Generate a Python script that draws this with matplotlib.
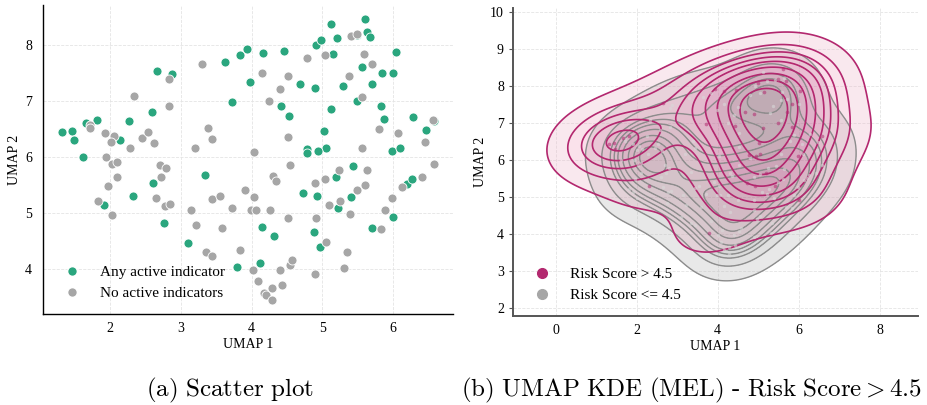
import numpy as np
import matplotlib
matplotlib.use("Agg")
import matplotlib.pyplot as plt
import seaborn as sns
from matplotlib.lines import Line2D

# points with any active indicator
act_x = [1.31, 1.45, 1.48, 1.61, 1.66, 1.81, 2.14, 2.27, 2.59, 2.66, 2.87, 2.60, 2.32, 1.91, 2.76,
         3.10, 3.34, 3.63, 3.83, 3.94, 4.16, 4.46, 3.98, 3.72, 4.42, 4.53, 4.69, 4.90, 4.92, 4.99,
         5.13, 5.21, 5.15, 5.49, 5.61, 5.64, 5.68, 5.57, 5.29, 5.71, 5.85, 6.00, 6.04, 5.50, 5.13,
         5.83, 5.88, 6.28, 6.47, 6.59, 5.03, 5.05, 4.94, 4.78, 4.79, 5.99, 6.10, 5.44, 5.19, 4.73,
         4.93, 5.41, 5.23, 6.20, 6.27, 6.00, 5.70, 4.89, 4.97, 4.15, 4.32, 4.12, 3.80]
act_y = [6.45, 6.47, 6.30, 6.01, 6.61, 6.66, 6.30, 6.65, 6.81, 7.55, 7.48, 5.54, 5.31, 5.14, 4.83,
         4.46, 5.68, 7.71, 7.82, 7.93, 7.87, 7.89, 7.35, 6.98, 6.92, 6.73, 7.31, 7.24, 8.01, 8.09,
         8.38, 8.13, 7.85, 8.19, 8.47, 8.23, 8.15, 7.62, 7.28, 7.31, 7.51, 7.51, 7.88, 7.01, 6.86,
         6.91, 6.69, 6.72, 6.48, 6.64, 6.47, 6.17, 6.11, 6.15, 6.07, 6.12, 6.17, 5.84, 5.65, 5.37,
         5.31, 5.29, 5.09, 5.52, 5.61, 4.93, 4.73, 4.66, 4.40, 4.75, 4.60, 4.11, 4.04]
# 1 = risk score > 4.5
act_risk = [1, 1, 1, 0, 1, 1, 0, 0, 0, 1, 0, 0, 1, 0, 0,
            0, 0, 0, 0, 1, 1, 1, 0, 1, 1, 0, 1, 1, 0, 1,
            0, 0, 1, 1, 1, 0, 1, 0, 0, 1, 1, 0, 1, 1, 1,
            1, 0, 0, 0, 1, 1, 1, 1, 1, 0, 1, 0, 0, 1, 1,
            1, 1, 0, 0, 0, 1, 0, 0, 0, 0, 0, 0, 1]

# points with no active indicators
none_x = [1.71, 1.71, 1.92, 2.05, 2.01, 2.28, 2.34, 2.45, 2.53, 2.62, 2.83, 2.83, 1.94, 2.03, 2.10,
          2.10, 1.97, 2.70, 2.79, 2.72, 1.82, 2.02, 2.65, 2.78, 2.84, 3.30, 4.15, 4.51, 4.40, 4.25,
          3.39, 3.44, 3.20, 4.04, 4.52, 4.54, 4.30, 4.35, 3.91, 3.44, 3.55, 4.03, 3.14, 3.72, 3.99,
          4.06, 4.26, 4.51, 3.21, 3.58, 3.35, 3.44, 3.83, 4.02, 4.41, 4.54, 4.58, 4.09, 4.17, 4.21,
          4.29, 4.43, 4.29, 4.90, 4.79, 5.04, 5.41, 5.50, 5.59, 5.71, 5.38, 5.56, 5.80, 6.08, 6.46,
          6.57, 5.57, 4.90, 5.04, 5.24, 5.63, 5.10, 5.26, 5.50, 5.61, 5.39, 4.91, 5.06, 5.35, 5.31,
          5.99, 5.89, 5.83, 6.13, 6.42, 6.58]
none_y = [6.58, 6.53, 6.44, 6.38, 6.28, 6.17, 7.10, 6.34, 6.45, 6.26, 7.40, 6.91, 6.01, 5.88, 5.92,
          5.64, 5.48, 5.86, 5.80, 5.64, 5.21, 4.97, 5.27, 5.13, 5.17, 7.67, 7.51, 7.45, 7.22, 7.01,
          6.53, 6.32, 6.17, 6.10, 6.36, 5.86, 5.66, 5.57, 5.41, 5.25, 5.31, 5.29, 5.06, 5.09, 5.06,
          5.06, 5.06, 4.91, 4.79, 4.73, 4.31, 4.24, 4.34, 3.98, 3.98, 4.07, 4.16, 3.79, 3.58, 3.53,
          3.66, 3.71, 3.45, 3.92, 7.77, 7.82, 8.16, 8.20, 7.85, 7.66, 7.46, 7.08, 6.51, 6.44, 6.27,
          6.66, 6.16, 5.54, 5.62, 5.78, 5.77, 5.15, 5.22, 5.41, 5.50, 4.98, 4.91, 4.48, 4.31, 4.02,
          5.28, 5.06, 4.71, 5.46, 5.65, 5.88]

GREEN = '#2aa67e'
GRAY = '#a6a6a6'
MAG = '#b3286f'

plt.rcParams['font.family'] = ['Liberation Serif', 'DejaVu Serif']
plt.rcParams['mathtext.fontset'] = 'cm'

fig = plt.figure(figsize=(9.27, 4.05), dpi=100)
ax1 = fig.add_axes([0.0464, 0.2247, 0.4423, 0.763])
ax2 = fig.add_axes([0.5534, 0.2198, 0.4369, 0.7605])

# ---- (a) scatter
ax1.scatter(act_x, act_y, s=42, color=GREEN, edgecolor='white', linewidth=0.6, zorder=3)
ax1.scatter(none_x, none_y, s=42, color=GRAY, edgecolor='white', linewidth=0.6, zorder=3)
ax1.set_xticks([2, 3, 4, 5, 6])
ax1.set_yticks([4, 5, 6, 7, 8])
ax1.set_xlabel('UMAP 1', fontsize=10, labelpad=2)
ax1.set_ylabel('UMAP 2', fontsize=10, labelpad=3)
ax1.tick_params(axis='y', length=0, labelsize=10, pad=8)
ax1.tick_params(axis='x', length=0, labelsize=10, pad=6)
ax1.grid(True, color='#e4e4e4', linestyle='--', linewidth=0.6)
ax1.set_axisbelow(True)
for s in ['top', 'right']:
    ax1.spines[s].set_visible(False)
for s in ['left', 'bottom']:
    ax1.spines[s].set_color('black')
    ax1.spines[s].set_linewidth(1.0)
h1 = [Line2D([], [], marker='o', ls='', color=GREEN, markeredgecolor='white', markersize=7),
      Line2D([], [], marker='o', ls='', color=GRAY, markeredgecolor='white', markersize=7)]
ax1.legend(h1, ['Any active indicator', 'No active indicators'], loc='lower left',
           frameon=False, fontsize=11)

# ---- (b) KDE by risk score
all_x = np.array(act_x + none_x)
all_y = np.array(act_y + none_y)
hi = np.array(act_risk + [0] * len(none_x)) == 1
lo = ~hi

sns.kdeplot(x=all_x[lo], y=all_y[lo], fill=True, color='#9c9c9c', alpha=0.32, levels=10,
            bw_adjust=1.08, ax=ax2)
sns.kdeplot(x=all_x[lo], y=all_y[lo], color='#8c8c8c', linewidths=1.0, levels=10,
            bw_adjust=1.08, ax=ax2)
sns.kdeplot(x=all_x[hi], y=all_y[hi], fill=True, color=MAG, alpha=0.28, levels=10,
            bw_adjust=1.1, ax=ax2)
sns.kdeplot(x=all_x[hi], y=all_y[hi], color=MAG, linewidths=1.2, levels=10,
            bw_adjust=1.1, ax=ax2)
ax2.scatter(all_x[lo], all_y[lo], s=6, color='#d8d8d8', alpha=0.6, linewidth=0, zorder=4)
ax2.scatter(all_x[hi], all_y[hi], s=7, color=MAG, alpha=0.55, linewidth=0, zorder=4)

ax2.set_xlim(-1.05, 8.95)
ax2.set_ylim(1.78, 10.12)
ax2.set_xticks([0, 2, 4, 6, 8])
ax2.set_yticks([2, 3, 4, 5, 6, 7, 8, 9, 10])
ax2.set_xlabel('UMAP 1', fontsize=10, labelpad=2)
ax2.set_ylabel('UMAP 2', fontsize=10, labelpad=2)
ax2.tick_params(axis='y', length=3, labelsize=10, color='#555555')
ax2.tick_params(axis='x', length=0, labelsize=10, pad=6)
ax2.grid(True, color='#e4e4e4', linestyle='--', linewidth=0.6)
ax2.set_axisbelow(True)
for s in ['top', 'right']:
    ax2.spines[s].set_visible(False)
for s in ['left', 'bottom']:
    ax2.spines[s].set_color('#555555')
    ax2.spines[s].set_linewidth(1.4)
h2 = [Line2D([], [], marker='o', ls='', color=MAG, markersize=7),
      Line2D([], [], marker='o', ls='', color=GRAY, markersize=7)]
ax2.legend(h2, ['Risk Score > 4.5', 'Risk Score <= 4.5'], loc='lower left',
           frameon=False, fontsize=11)

# captions
fig.text(0.248, 0.037, r'$\mathrm{(a)\ Scatter\ plot}$', ha='center', va='center', fontsize=18)
fig.text(0.746, 0.037,
         r'$\mathrm{(b)\ UMAP\ KDE\ (MEL)\ \text{-}\ Risk\ Score} > \mathrm{4.5}$',
         ha='center', va='center', fontsize=18)

fig.savefig('out.png', dpi=100)
